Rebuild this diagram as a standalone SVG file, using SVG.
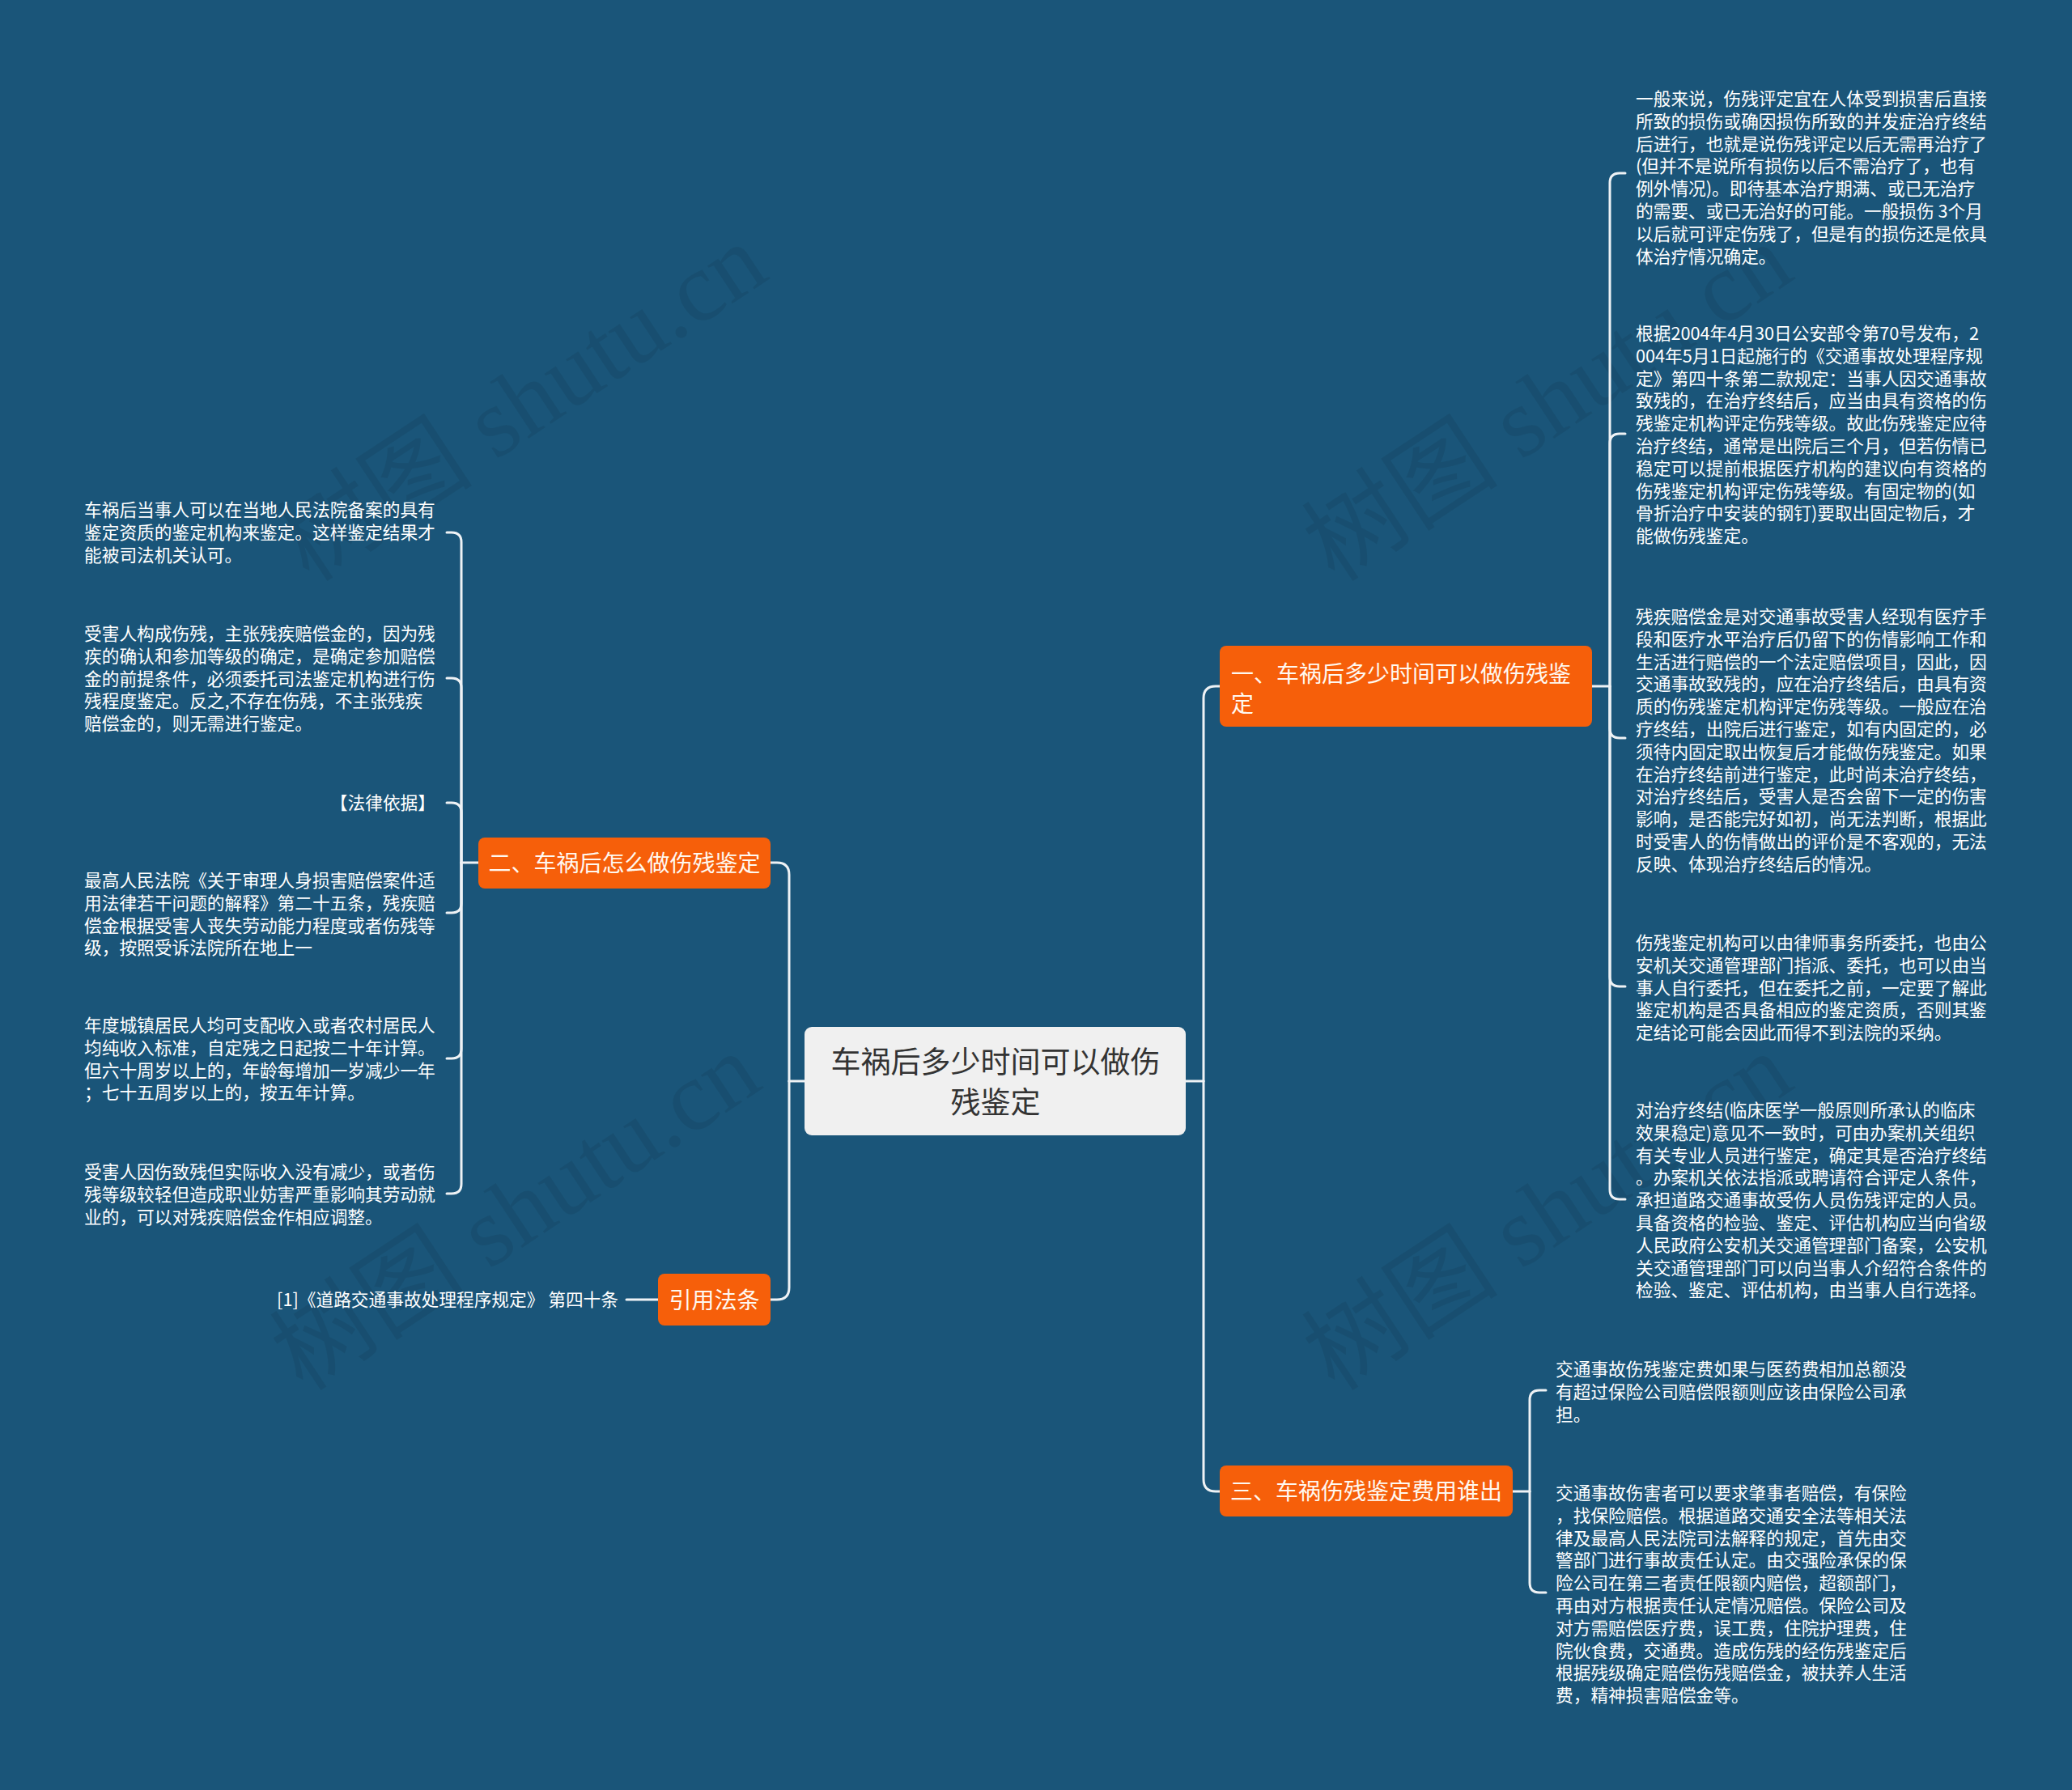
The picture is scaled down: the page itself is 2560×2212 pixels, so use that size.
<svg xmlns="http://www.w3.org/2000/svg" width="2560" height="2212" viewBox="0 0 2560 2212">
<style>
.bg{fill:#1a5579}
.wm{font-family:"Liberation Serif","Noto Sans CJK SC",serif;font-size:122px;fill:#000;fill-opacity:0.075}
.ln{fill:none;stroke:#eef2f5;stroke-width:3;stroke-linecap:round}
.root rect{fill:#f0f0f0}
.root text{font-family:"Noto Sans CJK SC","Microsoft YaHei",sans-serif;font-size:37px;fill:#333;text-anchor:middle}
.br rect{fill:#f65f0a}
.br text{font-family:"Noto Sans CJK SC","Microsoft YaHei",sans-serif;font-size:28px;fill:#fff8f0}
.tx text{font-family:"Noto Sans CJK SC","Microsoft YaHei",sans-serif;font-size:21.7px;fill:#ffffff}
</style>
<rect class="bg" x="0" y="0" width="2560" height="2212"/>
<g id="watermarks">
<text class="wm" transform="translate(668 532) rotate(-33.5)" text-anchor="middle">树图 shutu.cn</text>
<text class="wm" transform="translate(1935 532) rotate(-33.5)" text-anchor="middle">树图 shutu.cn</text>
<text class="wm" transform="translate(660 1532) rotate(-33.5)" text-anchor="middle">树图 shutu.cn</text>
<text class="wm" transform="translate(1935 1532) rotate(-33.5)" text-anchor="middle">树图 shutu.cn</text>
</g>
<g id="connectors">
<path class="ln" d="M994 1336 H975"/>
<path class="ln" d="M975 1336 V1081 Q975 1066 960 1066 H952"/>
<path class="ln" d="M975 1336 V1591 Q975 1606 960 1606 H952"/>
<path class="ln" d="M1465 1336 H1487"/>
<path class="ln" d="M1487 1336 V863 Q1487 848 1502 848 H1507"/>
<path class="ln" d="M1487 1336 V1828 Q1487 1843 1502 1843 H1507"/>
<path class="ln" d="M591 1066 H570"/>
<path class="ln" d="M570 1066 V670 Q570 658 558 658 H552"/>
<path class="ln" d="M570 1066 V850 Q570 838 558 838 H552"/>
<path class="ln" d="M570 1066 V1004 Q570 992 558 992 H552"/>
<path class="ln" d="M570 1066 V1116 Q570 1128 558 1128 H552"/>
<path class="ln" d="M570 1066 V1296 Q570 1308 558 1308 H552"/>
<path class="ln" d="M570 1066 V1463 Q570 1475 558 1475 H552"/>
<path class="ln" d="M813 1606 H774"/>
<path class="ln" d="M1967 848 H1989"/>
<path class="ln" d="M1989 848 V226 Q1989 214 2001 214 H2008"/>
<path class="ln" d="M1989 848 V548 Q1989 536 2001 536 H2008"/>
<path class="ln" d="M1989 848 V900 Q1989 912 2001 912 H2008"/>
<path class="ln" d="M1989 848 V1207 Q1989 1219 2001 1219 H2008"/>
<path class="ln" d="M1989 848 V1470 Q1989 1482 2001 1482 H2008"/>
<path class="ln" d="M1869 1843 H1890"/>
<path class="ln" d="M1890 1843 V1730 Q1890 1718 1902 1718 H1910"/>
<path class="ln" d="M1890 1843 V1956 Q1890 1968 1902 1968 H1910"/>
</g>
<g id="root" class="root">
<rect x="994" y="1269" width="471" height="134" rx="9"/>
<text x="1230" y="1326">车祸后多少时间可以做伤</text>
<text x="1230" y="1376">残鉴定</text>
</g>
<g id="b1" class="br">
<rect x="1507" y="798" width="460" height="100" rx="8"/>
<text x="1521" y="843">一、车祸后多少时间可以做伤残鉴</text>
<text x="1521" y="880">定</text>
</g>
<g id="b2" class="br">
<rect x="591" y="1035" width="361" height="63" rx="8"/>
<text x="771.5" y="1077" text-anchor="middle">二、车祸后怎么做伤残鉴定</text>
</g>
<g id="b3" class="br">
<rect x="1507" y="1811" width="362" height="63" rx="8"/>
<text x="1688" y="1853" text-anchor="middle">三、车祸伤残鉴定费用谁出</text>
</g>
<g id="b4" class="br">
<rect x="813" y="1574" width="139" height="64" rx="8"/>
<text x="882.5" y="1617" text-anchor="middle">引用法条</text>
</g>
<g id="r1" class="tx"><text y="130">
<tspan x="2021">一般来说，伤残评定宜在人体受到损害后直接</tspan>
<tspan x="2021" dy="27.8">所致的损伤或确因损伤所致的并发症治疗终结</tspan>
<tspan x="2021" dy="27.8">后进行，也就是说伤残评定以后无需再治疗了</tspan>
<tspan x="2021" dy="27.8">(但并不是说所有损伤以后不需治疗了，也有</tspan>
<tspan x="2021" dy="27.8">例外情况)。即待基本治疗期满、或已无治疗</tspan>
<tspan x="2021" dy="27.8">的需要、或已无治好的可能。一般损伤 3个月</tspan>
<tspan x="2021" dy="27.8">以后就可评定伤残了，但是有的损伤还是依具</tspan>
<tspan x="2021" dy="27.8">体治疗情况确定。</tspan>
</text></g>
<g id="r2" class="tx"><text y="420">
<tspan x="2021">根据2004年4月30日公安部令第70号发布，2</tspan>
<tspan x="2021" dy="27.8">004年5月1日起施行的《交通事故处理程序规</tspan>
<tspan x="2021" dy="27.8">定》第四十条第二款规定：当事人因交通事故</tspan>
<tspan x="2021" dy="27.8">致残的，在治疗终结后，应当由具有资格的伤</tspan>
<tspan x="2021" dy="27.8">残鉴定机构评定伤残等级。故此伤残鉴定应待</tspan>
<tspan x="2021" dy="27.8">治疗终结，通常是出院后三个月，但若伤情已</tspan>
<tspan x="2021" dy="27.8">稳定可以提前根据医疗机构的建议向有资格的</tspan>
<tspan x="2021" dy="27.8">伤残鉴定机构评定伤残等级。有固定物的(如</tspan>
<tspan x="2021" dy="27.8">骨折治疗中安装的钢钉)要取出固定物后，才</tspan>
<tspan x="2021" dy="27.8">能做伤残鉴定。</tspan>
</text></g>
<g id="r3" class="tx"><text y="770">
<tspan x="2021">残疾赔偿金是对交通事故受害人经现有医疗手</tspan>
<tspan x="2021" dy="27.8">段和医疗水平治疗后仍留下的伤情影响工作和</tspan>
<tspan x="2021" dy="27.8">生活进行赔偿的一个法定赔偿项目，因此，因</tspan>
<tspan x="2021" dy="27.8">交通事故致残的，应在治疗终结后，由具有资</tspan>
<tspan x="2021" dy="27.8">质的伤残鉴定机构评定伤残等级。一般应在治</tspan>
<tspan x="2021" dy="27.8">疗终结，出院后进行鉴定，如有内固定的，必</tspan>
<tspan x="2021" dy="27.8">须待内固定取出恢复后才能做伤残鉴定。如果</tspan>
<tspan x="2021" dy="27.8">在治疗终结前进行鉴定，此时尚未治疗终结，</tspan>
<tspan x="2021" dy="27.8">对治疗终结后，受害人是否会留下一定的伤害</tspan>
<tspan x="2021" dy="27.8">影响，是否能完好如初，尚无法判断，根据此</tspan>
<tspan x="2021" dy="27.8">时受害人的伤情做出的评价是不客观的，无法</tspan>
<tspan x="2021" dy="27.8">反映、体现治疗终结后的情况。</tspan>
</text></g>
<g id="r4" class="tx"><text y="1173">
<tspan x="2021">伤残鉴定机构可以由律师事务所委托，也由公</tspan>
<tspan x="2021" dy="27.8">安机关交通管理部门指派、委托，也可以由当</tspan>
<tspan x="2021" dy="27.8">事人自行委托，但在委托之前，一定要了解此</tspan>
<tspan x="2021" dy="27.8">鉴定机构是否具备相应的鉴定资质，否则其鉴</tspan>
<tspan x="2021" dy="27.8">定结论可能会因此而得不到法院的采纳。</tspan>
</text></g>
<g id="r5" class="tx"><text y="1380">
<tspan x="2021">对治疗终结(临床医学一般原则所承认的临床</tspan>
<tspan x="2021" dy="27.8">效果稳定)意见不一致时，可由办案机关组织</tspan>
<tspan x="2021" dy="27.8">有关专业人员进行鉴定，确定其是否治疗终结</tspan>
<tspan x="2021" dy="27.8">。办案机关依法指派或聘请符合评定人条件，</tspan>
<tspan x="2021" dy="27.8">承担道路交通事故受伤人员伤残评定的人员。</tspan>
<tspan x="2021" dy="27.8">具备资格的检验、鉴定、评估机构应当向省级</tspan>
<tspan x="2021" dy="27.8">人民政府公安机关交通管理部门备案，公安机</tspan>
<tspan x="2021" dy="27.8">关交通管理部门可以向当事人介绍符合条件的</tspan>
<tspan x="2021" dy="27.8">检验、鉴定、评估机构，由当事人自行选择。</tspan>
</text></g>
<g id="r6" class="tx"><text y="1700">
<tspan x="1922">交通事故伤残鉴定费如果与医药费相加总额没</tspan>
<tspan x="1922" dy="27.8">有超过保险公司赔偿限额则应该由保险公司承</tspan>
<tspan x="1922" dy="27.8">担。</tspan>
</text></g>
<g id="r7" class="tx"><text y="1853">
<tspan x="1922">交通事故伤害者可以要求肇事者赔偿，有保险</tspan>
<tspan x="1922" dy="27.8">，找保险赔偿。根据道路交通安全法等相关法</tspan>
<tspan x="1922" dy="27.8">律及最高人民法院司法解释的规定，首先由交</tspan>
<tspan x="1922" dy="27.8">警部门进行事故责任认定。由交强险承保的保</tspan>
<tspan x="1922" dy="27.8">险公司在第三者责任限额内赔偿，超额部门，</tspan>
<tspan x="1922" dy="27.8">再由对方根据责任认定情况赔偿。保险公司及</tspan>
<tspan x="1922" dy="27.8">对方需赔偿医疗费，误工费，住院护理费，住</tspan>
<tspan x="1922" dy="27.8">院伙食费，交通费。造成伤残的经伤残鉴定后</tspan>
<tspan x="1922" dy="27.8">根据残级确定赔偿伤残赔偿金，被扶养人生活</tspan>
<tspan x="1922" dy="27.8">费，精神损害赔偿金等。</tspan>
</text></g>
<g id="l1" class="tx"><text y="638">
<tspan x="104">车祸后当事人可以在当地人民法院备案的具有</tspan>
<tspan x="104" dy="27.8">鉴定资质的鉴定机构来鉴定。这样鉴定结果才</tspan>
<tspan x="104" dy="27.8">能被司法机关认可。</tspan>
</text></g>
<g id="l2" class="tx"><text y="791">
<tspan x="104">受害人构成伤残，主张残疾赔偿金的，因为残</tspan>
<tspan x="104" dy="27.8">疾的确认和参加等级的确定，是确定参加赔偿</tspan>
<tspan x="104" dy="27.8">金的前提条件，必须委托司法鉴定机构进行伤</tspan>
<tspan x="104" dy="27.8">残程度鉴定。反之,不存在伤残，不主张残疾</tspan>
<tspan x="104" dy="27.8">赔偿金的，则无需进行鉴定。</tspan>
</text></g>
<g id="l3" class="tx"><text x="538" y="1000" text-anchor="end">【法律依据】</text></g>
<g id="l4" class="tx"><text y="1096">
<tspan x="104">最高人民法院《关于审理人身损害赔偿案件适</tspan>
<tspan x="104" dy="27.8">用法律若干问题的解释》第二十五条，残疾赔</tspan>
<tspan x="104" dy="27.8">偿金根据受害人丧失劳动能力程度或者伤残等</tspan>
<tspan x="104" dy="27.8">级，按照受诉法院所在地上一</tspan>
</text></g>
<g id="l5" class="tx"><text y="1275">
<tspan x="104">年度城镇居民人均可支配收入或者农村居民人</tspan>
<tspan x="104" dy="27.8">均纯收入标准，自定残之日起按二十年计算。</tspan>
<tspan x="104" dy="27.8">但六十周岁以上的，年龄每增加一岁减少一年</tspan>
<tspan x="104" dy="27.8">；七十五周岁以上的，按五年计算。</tspan>
</text></g>
<g id="l6" class="tx"><text y="1456">
<tspan x="104">受害人因伤致残但实际收入没有减少，或者伤</tspan>
<tspan x="104" dy="27.8">残等级较轻但造成职业妨害严重影响其劳动就</tspan>
<tspan x="104" dy="27.8">业的，可以对残疾赔偿金作相应调整。</tspan>
</text></g>
<g id="c1" class="tx"><text x="764" y="1614" text-anchor="end">[1]《道路交通事故处理程序规定》 第四十条</text></g>
</svg>
